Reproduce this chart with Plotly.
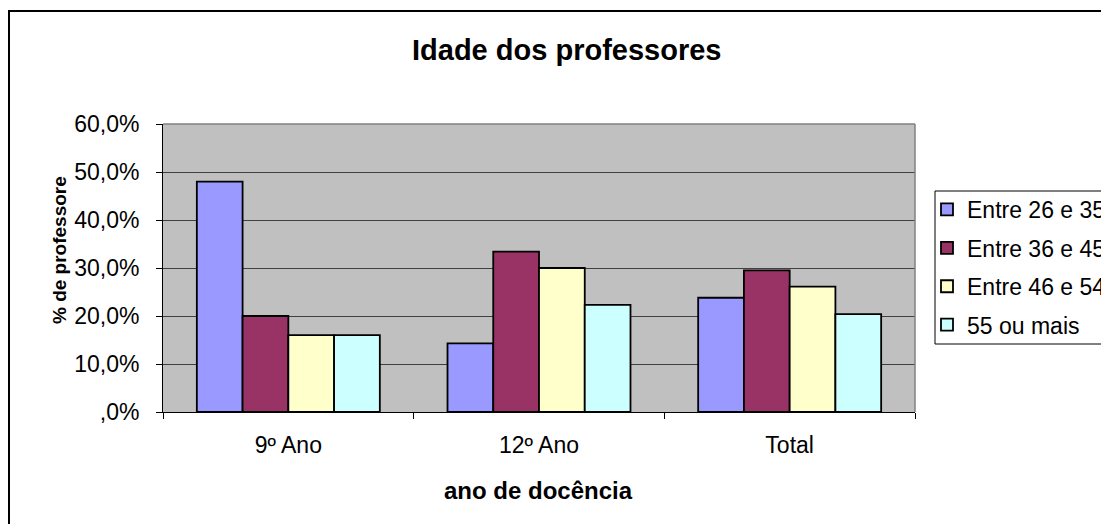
import plotly.graph_objects as go

categories = ["9º Ano", "12º Ano", "Total"]
series_names = ["Entre 26 e 35", "Entre 36 e 45", "Entre 46 e 54", "55 ou mais"]
entre_26_35 = [48.0, 14.3, 23.8]
entre_36_45 = [20.0, 33.4, 29.5]
entre_46_54 = [16.0, 30.0, 26.1]
mais_55 = [16.0, 22.3, 20.4]
series_values = [entre_26_35, entre_36_45, entre_46_54, mais_55]
colors = ["#9999FF", "#993366", "#FFFFCC", "#CCFFFF"]
tick_vals = [0, 10, 20, 30, 40, 50, 60]
tick_text = [",0%", "10,0%", "20,0%", "30,0%", "40,0%", "50,0%", "60,0%"]

OFF = 8  # page body margin
W, H = 1109 - OFF, 524 - OFF
L, T = 163 - OFF, 124 - OFF
R = W - (915 - OFF)
B = H - (412 - OFF)
PW, PH = W - L - R, H - T - B

def px(x):
    return (x - OFF - L) / PW

def py(y):
    return (H - B - (y - OFF)) / PH

FONT = "Liberation Sans, Arial, sans-serif"

fig = go.Figure()
for i, (name, vals, col) in enumerate(zip(series_names, series_values, colors)):
    fig.add_trace(go.Bar(
        x=categories, y=vals, name=name, legendgroup=str(i),
        marker=dict(color=col, line=dict(color="black", width=1.8)),
    ))

fig.update_layout(
    width=W, height=H,
    margin=dict(l=L, r=R, t=T, b=B, autoexpand=False),
    paper_bgcolor="white", plot_bgcolor="#C0C0C0",
    barmode="group", bargap=0.27, bargroupgap=0,
    font=dict(family=FONT, size=23, color="black"),
    showlegend=True,
    legend=dict(
        x=px(927), xanchor="left", y=py(188), yanchor="top",
        bgcolor="rgba(0,0,0,0)", borderwidth=0,
        font=dict(family=FONT, size=23, color="black"),
        traceorder="grouped", tracegroupgap=5.5,
    ),
    xaxis=dict(
        type="category", range=[-0.5, 2.5],
        showline=True, linecolor="black", linewidth=1,
        ticks="outside", ticklen=6, tickcolor="black", tickson="boundaries",
        showgrid=False, ticklabelstandoff=12,
        tickfont=dict(family=FONT, size=23),
    ),
    yaxis=dict(
        range=[0, 60], tickvals=tick_vals, ticktext=tick_text,
        showline=True, linecolor="black", linewidth=1,
        ticks="outside", ticklen=6, tickcolor="black",
        showgrid=True, gridcolor="#404040", gridwidth=1,
        zeroline=False, ticklabelstandoff=12,
        tickfont=dict(family=FONT, size=23),
    ),
    shapes=[
        dict(type="rect", xref="paper", yref="paper",
             x0=px(9), x1=px(1125), y0=py(11), y1=py(540),
             line=dict(color="black", width=2), layer="below"),
        dict(type="line", xref="paper", yref="paper",
             x0=0, x1=1, y0=1, y1=1, line=dict(color="#808080", width=1.5)),
        dict(type="line", xref="paper", yref="paper",
             x0=1, x1=1, y0=0, y1=1, line=dict(color="#808080", width=1.5)),
        dict(type="rect", xref="paper", yref="paper",
             x0=px(935), x1=px(1125), y0=py(191), y1=py(344),
             line=dict(color="black", width=1), fillcolor="white"),
    ],
    annotations=[
        dict(text="<b>Idade dos professores</b>", xref="paper", yref="paper",
             x=px(566), y=py(50), xanchor="center", yanchor="middle",
             showarrow=False, font=dict(family=FONT, size=29)),
        dict(text="<b>ano de docência</b>", xref="paper", yref="paper",
             x=px(538), y=py(490), xanchor="center", yanchor="middle",
             showarrow=False, font=dict(family=FONT, size=24)),
        dict(text="<b>% de professore</b>", xref="paper", yref="paper",
             x=px(59), y=py(250), xanchor="center", yanchor="middle",
             textangle=-90, showarrow=False, font=dict(family=FONT, size=19)),
    ],
)

fig.write_html("out.html")
